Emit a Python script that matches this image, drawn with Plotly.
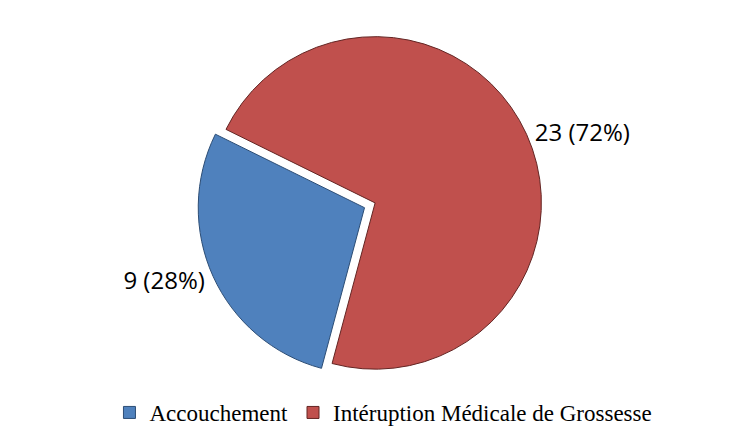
import plotly.graph_objects as go

categories = ["Accouchement", "Intéruption Médicale de Grossesse"]
values = [9, 23]
colors = ["#4F81BD", "#C0504D"]

fig = go.Figure()
fig.add_trace(go.Pie(
    labels=categories,
    values=values,
    sort=False,
    direction="clockwise",
    rotation=195,
    pull=[0.07, 0],
    marker=dict(colors=colors, line=dict(color=["#2c4d75", "#632523"], width=1)),
    texttemplate="%{value} (%{percent:.0%})",
    textposition="outside",
    textfont=dict(family="Open Sans, Noto Sans, sans-serif", size=24, color="#000000"),
    hoverinfo="label+value+percent",
    domain=dict(x=[0.12, 0.92], y=[0.13, 1.0]),
    showlegend=True,
))

fig.update_layout(
    width=738, height=434,
    margin=dict(l=5, r=5, t=8, b=8),
    paper_bgcolor="white",
    plot_bgcolor="white",
    legend=dict(
        orientation="h",
        x=0.535, xanchor="center",
        y=0.0, yanchor="bottom",
        font=dict(family="Liberation Serif, serif", size=23, color="#000000"),
        itemwidth=30,
        traceorder="normal",
    ),
)

fig.write_html("out.html")
